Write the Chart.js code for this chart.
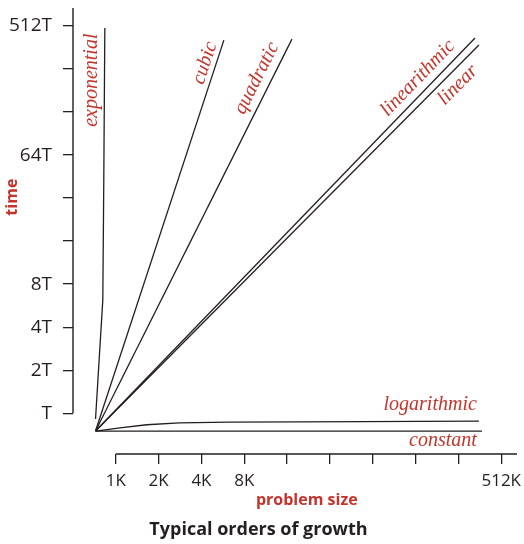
<!DOCTYPE html>
<html>
<head>
<meta charset="utf-8">
<script src="https://cdn.jsdelivr.net/npm/chart.js@4/dist/chart.umd.min.js"></script>
<style>
  html, body { margin: 0; padding: 0; background: #fff; }
  #wrap { width: 524px; height: 544px; }
</style>
</head>
<body>
<div id="wrap"><canvas id="growth"></canvas></div>
<script>
// problem size in K, time in T (both log scale, base 2 ticks)
const xTicks = [1, 2, 4, 8, 16, 32, 64, 128, 256, 512];
const xTickLabels = ['1K', '2K', '4K', '8K', '', '', '', '', '', '512K'];
const yTicks = [1, 2, 4, 8, 16, 32, 64, 128, 256, 512];
const yTickLabels = ['T', '2T', '4T', '8T', '', '', '64T', '', '', '512T'];

const constantN = [0.72, 375];
const constantT = [0.75, 0.75];
const logarithmicN = [0.72, 1.07, 1.65, 2.8, 6.3, 20, 357];
const logarithmicT = [0.75, 0.79, 0.83, 0.855, 0.865, 0.87, 0.88];
const linearN = [0.72, 357];
const linearT = [0.75, 377];
const linearithmicN = [0.72, 335];
const linearithmicT = [0.75, 422];
const quadraticN = [0.72, 17.3];
const quadraticT = [0.75, 415];
const cubicN = [0.72, 5.75];
const cubicT = [0.75, 408];
const exponentialN = [0.72, 0.81, 0.823, 0.837];
const exponentialT = [0.91, 6.2, 43, 496];

const RED = '#c5342b';
const INK = '#231f20';

function pts(ns, ts) {
    return ns.map((n, i) => ({ x: n, y: ts[i] }));
}

const series = [
    { name: 'constant', n: constantN, t: constantT },
    { name: 'logarithmic', n: logarithmicN, t: logarithmicT },
    { name: 'linear', n: linearN, t: linearT },
    { name: 'linearithmic', n: linearithmicN, t: linearithmicT },
    { name: 'quadratic', n: quadraticN, t: quadraticT },
    { name: 'cubic', n: cubicN, t: cubicT },
    { name: 'exponential', n: exponentialN, t: exponentialT }
];

// where each curve name sits (data units) and how it is oriented
const curveLabels = [
    { text: 'exponential', x: 0.678, y: 214, rot: 'vertical', align: 'center' },
    { text: 'cubic', x: 4.23, y: 282, rot: 'cubic', align: 'center' },
    { text: 'quadratic', x: 9.8, y: 221, rot: 'quadratic', align: 'center' },
    { text: 'linearithmic', x: 133, y: 221, rot: 'linearithmic', align: 'center' },
    { text: 'linear', x: 254, y: 198, rot: 'linear', align: 'center' },
    { text: 'logarithmic', x: 345, y: 1.14, rot: null, align: 'right' },
    { text: 'constant', x: 345, y: 0.637, rot: null, align: 'right' }
];

const decorations = {
    id: 'decorations',
    afterDraw(chart) {
        const { ctx, chartArea, scales } = chart;
        const xs = scales.x, ys = scales.y;
        ctx.save();

        // detached axis lines
        ctx.strokeStyle = INK;
        ctx.lineWidth = 1.4;
        ctx.beginPath();
        ctx.moveTo(chartArea.left, ys.getPixelForValue(1));
        ctx.lineTo(chartArea.left, chartArea.top);
        ctx.moveTo(xs.getPixelForValue(1), chartArea.bottom);
        ctx.lineTo(chartArea.right, chartArea.bottom);
        ctx.stroke();

        // curve names
        ctx.fillStyle = RED;
        ctx.font = 'italic 20px "Liberation Serif", serif';
        ctx.textBaseline = 'middle';
        curveLabels.forEach(l => {
            const px = xs.getPixelForValue(l.x);
            const py = ys.getPixelForValue(l.y);
            let angle = 0;
            if (l.rot === 'vertical') {
                angle = -Math.PI / 2;
            } else if (l.rot) {
                const s = series.find(d => d.name === l.rot);
                const k = s.n.length - 1;
                const x0 = xs.getPixelForValue(s.n[0]), y0 = ys.getPixelForValue(s.t[0]);
                const x1 = xs.getPixelForValue(s.n[k]), y1 = ys.getPixelForValue(s.t[k]);
                angle = Math.atan2(y1 - y0, x1 - x0);
            }
            ctx.save();
            ctx.translate(px, py);
            ctx.rotate(angle);
            ctx.textAlign = l.align;
            ctx.fillText(l.text, 0, 0);
            ctx.restore();
        });

        // axis titles
        ctx.font = 'bold 16px "Open Sans", sans-serif';
        ctx.textAlign = 'center';
        ctx.fillText('problem size', xs.getPixelForValue(22), chartArea.bottom + 46);
        ctx.save();
        ctx.translate(12, ys.getPixelForValue(32.5));
        ctx.rotate(-Math.PI / 2);
        ctx.fillText('time', 0, 0);
        ctx.restore();

        ctx.restore();
    }
};

const ctx = document.getElementById('growth').getContext('2d');
new Chart(ctx, {
    type: 'scatter',
    data: {
        datasets: series.map(s => ({
            label: s.name,
            data: pts(s.n, s.t),
            showLine: true,
            borderColor: INK,
            borderWidth: 1.3,
            pointRadius: 0,
            tension: 0
        }))
    },
    options: {
        responsive: true,
        maintainAspectRatio: false,
        animation: false,
        layout: { padding: { top: 8, right: 7, left: 0, bottom: 0 } },
        plugins: {
            legend: { display: false },
            tooltip: { enabled: false },
            title: {
                display: true,
                position: 'bottom',
                text: 'Typical orders of growth',
                color: INK,
                font: { family: '"Open Sans", sans-serif', size: 18, weight: 'bold', lineHeight: 1.2 },
                padding: { top: 8, bottom: 3 }
            }
        },
        scales: {
            x: {
                type: 'logarithmic',
                min: 0.5,
                max: 661,
                afterBuildTicks: scale => { scale.ticks = xTicks.map(v => ({ value: v })); },
                afterFit: scale => {
                    scale.height = 57.4;
                    scale.paddingLeft = 0;
                    scale.paddingRight = 0;
                },
                border: { display: false },
                grid: { drawOnChartArea: false, drawTicks: true, tickLength: 10, color: INK, lineWidth: 1.3 },
                ticks: {
                    autoSkip: false,
                    maxRotation: 0,
                    padding: 7,
                    color: INK,
                    font: { family: '"Open Sans", sans-serif', size: 17 },
                    callback: (v, i) => xTickLabels[i]
                }
            },
            y: {
                type: 'logarithmic',
                min: 0.518,
                max: 685,
                afterBuildTicks: scale => { scale.ticks = yTicks.map(v => ({ value: v })); },
                afterFit: scale => {
                    scale.width = 73;
                    scale.paddingTop = 0;
                    scale.paddingBottom = 0;
                },
                border: { display: false },
                grid: { drawOnChartArea: false, drawTicks: true, tickLength: 10, color: INK, lineWidth: 1.3 },
                ticks: {
                    autoSkip: false,
                    padding: 11,
                    color: INK,
                    font: { family: '"Open Sans", sans-serif', size: 19 },
                    callback: (v, i) => yTickLabels[i]
                }
            }
        }
    },
    plugins: [decorations]
});
</script>
</body>
</html>
